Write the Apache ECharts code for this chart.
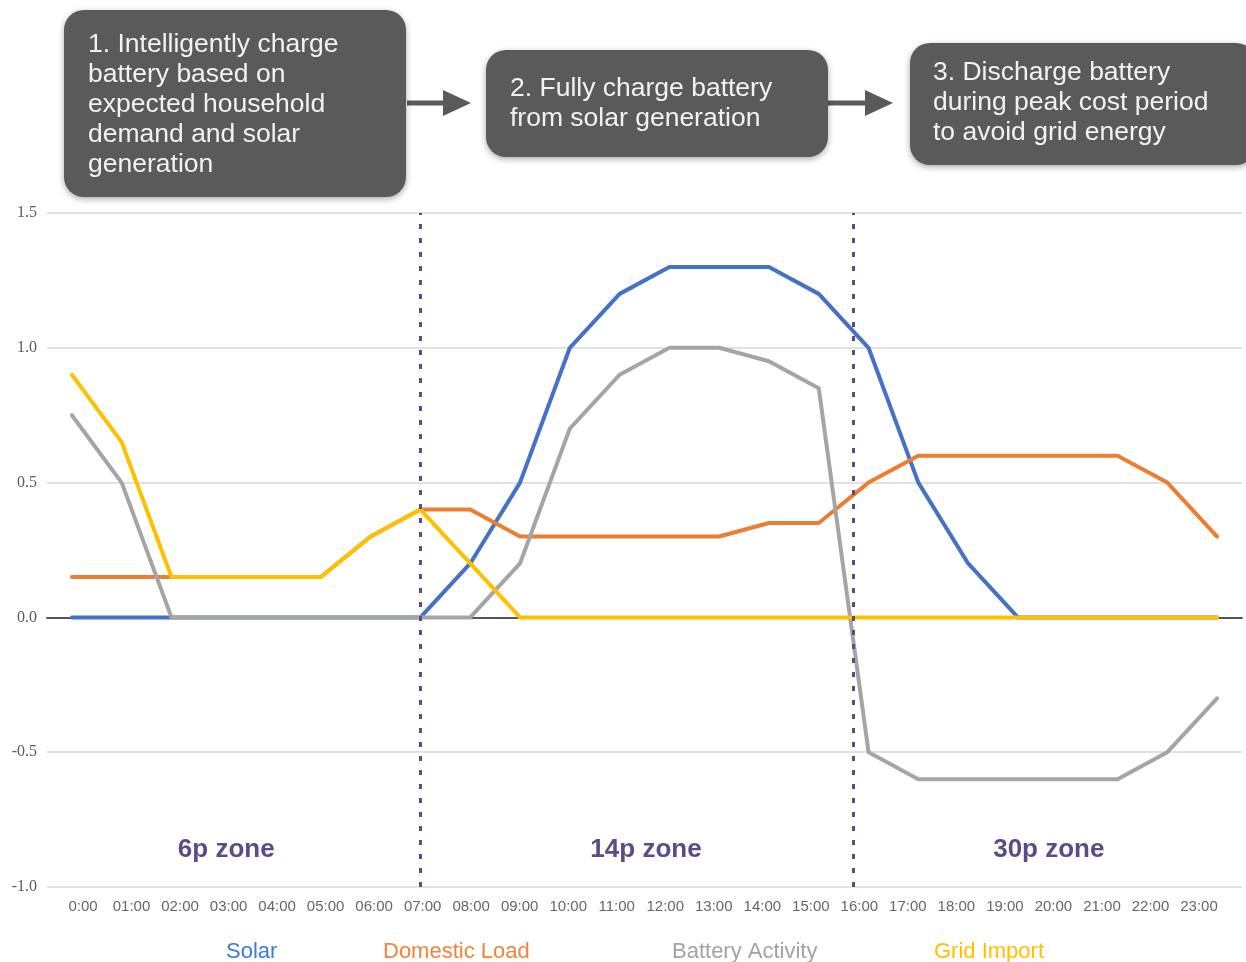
<!DOCTYPE html>
<html>
<head>
<meta charset="utf-8">
<title>Battery charging schedule</title>
<script src="https://cdn.jsdelivr.net/npm/echarts@6/dist/echarts.min.js"></script>
<style>
  html, body { margin: 0; padding: 0; background: #ffffff; }
  #chart { width: 1246px; height: 962px; }
</style>
</head>
<body>
<div id="chart"></div>
<script>
// Hourly time slots
const hours = ['0:00','01:00','02:00','03:00','04:00','05:00','06:00','07:00','08:00','09:00','10:00','11:00',
               '12:00','13:00','14:00','15:00','16:00','17:00','18:00','19:00','20:00','21:00','22:00','23:00'];

// Energy per hour (kWh)
const solar       = [0, 0, 0, 0, 0, 0, 0, 0, 0.2, 0.5, 1.0, 1.2, 1.3, 1.3, 1.3, 1.2, 1.0, 0.5, 0.2, 0, 0, 0, 0, 0];
const domesticLoad = [0.15, 0.15, 0.15, 0.15, 0.15, 0.15, 0.3, 0.4, 0.4, 0.3, 0.3, 0.3, 0.3, 0.3, 0.35, 0.35, 0.5, 0.6, 0.6, 0.6, 0.6, 0.6, 0.5, 0.3];
const battery     = [0.75, 0.5, 0, 0, 0, 0, 0, 0, 0, 0.2, 0.7, 0.9, 1.0, 1.0, 0.95, 0.85, -0.5, -0.6, -0.6, -0.6, -0.6, -0.6, -0.5, -0.3];
const gridImport  = [0.9, 0.65, 0.15, 0.15, 0.15, 0.15, 0.3, 0.4, 0.2, 0, 0, 0, 0, 0, 0, 0, 0, 0, 0, 0, 0, 0, 0, 0];

// Tariff zone boundaries (hour position) and zone captions with their anchor points
const zoneBoundaries = [7, 15.7];
const zoneNames = ['6p zone', '14p zone', '30p zone'];
const zoneLabelX = [3.1, 11.53, 19.62];
const zoneLabelY = -0.862;

// Y axis ticks
const yMin = -1.0, yMax = 1.5, yStep = 0.5;

// Process steps shown above the chart
const steps = [
  '1. Intelligently charge\nbattery based on\nexpected household\ndemand and solar\ngeneration',
  '2. Fully charge battery\nfrom solar generation',
  '3. Discharge battery\nduring peak cost period\nto avoid grid energy'
];

const seriesNames = ['Solar', 'Domestic Load', 'Battery Activity', 'Grid Import'];
const lineColors  = ['#4472c4', '#ed7d31', '#a5a5a5', '#ffc000'];
const legendColors = ['#3b7bd2', '#f0843a', '#a3a3a3', '#ffc000'];

const SANS = '"Liberation Sans", Arial, Helvetica, sans-serif';
const SERIF = '"Liberation Serif", "Times New Roman", serif';
const PURPLE = '#5e4a88';

const pairs = arr => arr.map((v, i) => [i, v]);

const chart = echarts.init(document.getElementById('chart'), null, { renderer: 'canvas' });

function lineSeries(idx, values, extra) {
  return Object.assign({
    name: seriesNames[idx],
    type: 'line',
    xAxisIndex: 0,
    yAxisIndex: 0,
    data: pairs(values),
    symbol: 'none',
    smooth: false,
    lineStyle: { width: 4, color: lineColors[idx], join: 'round', cap: 'round' },
    itemStyle: { color: lineColors[idx] },
    emphasis: { disabled: true },
    animation: false
  }, extra || {});
}

// Rounded step boxes and arrows
function stepBox(x, y, w, h, text, tx, ty) {
  return [
    {
      type: 'rect',
      shape: { x: x, y: y, width: w, height: h, r: 20 },
      style: { fill: '#5a5a5a', shadowBlur: 6, shadowColor: 'rgba(0,0,0,0.35)', shadowOffsetY: 2 },
      z: 10
    },
    {
      type: 'text',
      x: tx, y: ty,
      style: { text: text, fill: '#f2f2f2', font: '26.5px ' + SANS, lineHeight: 30, verticalAlign: 'top', align: 'left' },
      z: 11
    }
  ];
}
function arrow(x1, x2, y) {
  return [
    { type: 'rect', shape: { x: x1, y: y - 2.5, width: x2 - x1 - 24, height: 5 }, style: { fill: '#5a5a5a' }, z: 9 },
    { type: 'polygon', shape: { points: [[x2 - 28, y - 13], [x2, y], [x2 - 28, y + 13]] }, style: { fill: '#5a5a5a' }, z: 9 }
  ];
}

const option = {
  backgroundColor: '#ffffff',
  animation: false,
  grid: [
    { left: 47, right: 4, top: 213, height: 674 },
    { left: 83, right: 47, top: 213, height: 674 }
  ],
  xAxis: [
    {
      gridIndex: 0, type: 'value', min: -0.5, max: 23.5, interval: 1,
      axisLine: { show: true, onZero: true, lineStyle: { color: '#555555', width: 2 } },
      axisTick: { show: false }, axisLabel: { show: false }, splitLine: { show: false }
    },
    {
      gridIndex: 1, type: 'category', data: hours, boundaryGap: false,
      axisLine: { show: false }, axisTick: { show: false }, splitLine: { show: false },
      axisLabel: { show: true, interval: 0, color: '#666666', fontFamily: SANS, fontSize: 15, margin: 12 }
    }
  ],
  yAxis: [
    {
      gridIndex: 0, type: 'value', min: yMin, max: yMax, interval: yStep,
      axisLine: { show: false }, axisTick: { show: false },
      axisLabel: { color: '#5a5a5a', fontFamily: SERIF, fontSize: 16, margin: 10,
                   formatter: v => v.toFixed(1) },
      splitLine: { lineStyle: { color: '#e2e2e2', width: 2 } }
    },
    {
      gridIndex: 1, type: 'value', min: yMin, max: yMax, show: false
    }
  ],
  legend: seriesNames.map((name, i) => ({
    data: [name],
    top: 936,
    left: [216, 373, 662, 924][i],
    icon: 'rect',
    itemWidth: 0, itemHeight: 0, itemGap: 0,
    selectedMode: false,
    textStyle: { color: legendColors[i], fontFamily: SANS, fontSize: 22 }
  })),
  series: [
    lineSeries(0, solar, {
      markPoint: {
        symbol: 'rect', symbolSize: 0, silent: true,
        label: { show: true, position: 'inside', color: PURPLE, fontFamily: SANS, fontWeight: 'bold', fontSize: 26,
                 formatter: p => p.name },
        data: zoneNames.map((n, i) => ({ name: n, coord: [zoneLabelX[i], zoneLabelY] }))
      }
    }),
    lineSeries(1, domesticLoad),
    lineSeries(2, battery, {
      markLine: {
        symbol: 'none', silent: true, animation: false,
        label: { show: false },
        lineStyle: { color: PURPLE, width: 3, type: [5, 9] },
        data: zoneBoundaries.map(x => ({ xAxis: x }))
      }
    }),
    lineSeries(3, gridImport)
  ],
  graphic: [].concat(
    arrow(407, 471, 103),
    arrow(828, 893, 103),
    stepBox(64, 10, 342, 187, steps[0], 88, 30),
    stepBox(486, 50, 342, 107, steps[1], 510, 74),
    stepBox(910, 43, 346, 122, steps[2], 933, 58)
  )
};

chart.setOption(option);
</script>
</body>
</html>
